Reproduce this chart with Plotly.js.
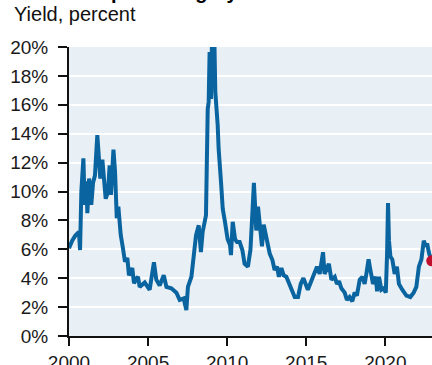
<!DOCTYPE html>
<html>
<head>
<meta charset="utf-8">
<script src="https://cdn.plot.ly/plotly-3.0.1.min.js"></script>
<style>html,body{margin:0;padding:0;background:#fff;}#chart{width:432px;height:365px;}</style>
</head>
<body>
<div id="chart"></div>
<script>
const titleText = "Global corporate high-yield bonds";
const subtitleText = "Yield, percent";
const years = [2000.00,2000.20,2000.40,2000.53,2000.63,2000.70,2000.78,2000.91,2000.99,2001.10,2001.16,2001.27,2001.33,2001.41,2001.52,2001.64,2001.79,2001.90,2001.98,2002.11,2002.21,2002.32,2002.47,2002.57,2002.65,2002.81,2002.91,2003.02,2003.12,2003.27,2003.41,2003.54,2003.69,2003.79,2004.00,2004.11,2004.28,2004.36,2004.47,2004.79,2005.10,2005.37,2005.52,2005.73,2005.99,2006.16,2006.47,2006.79,2007.00,2007.25,2007.42,2007.52,2007.74,2007.82,2008.03,2008.20,2008.34,2008.45,2008.56,2008.66,2008.77,2008.83,2008.89,2008.98,2009.04,2009.12,2009.19,2009.25,2009.40,2009.46,2009.61,2009.72,2009.86,2010.03,2010.18,2010.24,2010.35,2010.50,2010.62,2010.79,2010.96,2011.10,2011.31,2011.47,2011.57,2011.69,2011.78,2011.84,2011.95,2012.10,2012.20,2012.31,2012.43,2012.52,2012.69,2012.86,2013.00,2013.15,2013.27,2013.43,2013.57,2013.74,2013.95,2014.27,2014.48,2014.65,2014.82,2015.00,2015.10,2015.32,2015.47,2015.68,2015.85,2015.95,2016.06,2016.16,2016.27,2016.43,2016.59,2016.80,2016.94,2017.07,2017.22,2017.43,2017.57,2017.74,2017.91,2018.06,2018.20,2018.38,2018.55,2018.69,2018.80,2018.94,2019.05,2019.22,2019.39,2019.48,2019.60,2019.75,2019.90,2020.03,2020.11,2020.17,2020.23,2020.32,2020.44,2020.59,2020.73,2020.86,2021.07,2021.33,2021.58,2021.79,2021.96,2022.12,2022.28,2022.43,2022.56,2022.64,2022.77,2022.93];
const yieldPct = [6.07,6.6,6.95,7.1,7.2,5.95,10.0,12.3,9.07,10.7,8.5,10.9,10.0,9.07,10.6,11.1,13.9,12.1,10.9,12.2,10.9,9.5,10.0,11.8,9.76,12.9,11.4,8.15,8.95,7.0,6.07,5.14,5.4,4.2,4.7,3.65,4.0,4.1,3.4,3.7,3.2,5.1,3.9,3.5,4.2,3.4,3.3,3.0,2.5,2.6,1.8,3.4,4.1,4.9,6.97,7.66,5.8,7.2,7.9,8.35,15.7,16.2,19.65,16.4,20.5,20.8,20.5,16.9,14.6,12.96,10.66,8.8,7.9,6.7,6.3,5.6,7.9,6.7,6.5,6.5,5.95,5.0,4.8,5.95,8.0,10.6,8.7,7.3,8.95,6.87,6.2,7.7,7.1,6.4,5.7,5.26,4.57,4.8,4.1,4.7,4.2,4.1,3.5,2.7,2.7,3.6,4.0,3.5,3.2,3.8,4.3,4.8,4.3,5.0,5.8,4.3,4.6,5.0,3.9,4.1,3.6,3.8,3.3,3.0,2.5,2.7,2.4,3.0,2.8,3.9,4.1,3.6,4.3,5.3,4.6,3.6,4.1,3.1,4.1,3.2,3.3,3.0,5.7,9.2,6.6,5.5,5.3,4.3,4.8,3.6,3.2,2.8,2.7,3.0,3.4,4.8,5.3,6.6,6.2,6.4,5.7,5.2];
const yTickVals = [0,2,4,6,8,10,12,14,16,18,20];
const yTickText = ["0%","2%","4%","6%","8%","10%","12%","14%","16%","18%","20%"];
const xTickVals = [2000,2005,2010,2015,2020];

const lineTrace = {
  x: years, y: yieldPct, type: 'scatter', mode: 'lines',
  line: {color: '#0a64a0', width: 4}, hoverinfo: 'skip'
};
const dotTrace = {
  x: [years[years.length-1]], y: [yieldPct[yieldPct.length-1]],
  type: 'scatter', mode: 'markers',
  marker: {color: '#c0102e', size: 11}, cliponaxis: false, hoverinfo: 'skip'
};
const font = {family: 'Liberation Sans, Arial, sans-serif', color: '#1a1a1a'};
const layout = {
  width: 432, height: 365,
  margin: {l: 69, r: 0, t: 47, b: 29, pad: 0},
  paper_bgcolor: '#ffffff', plot_bgcolor: '#e9f0f5',
  showlegend: false,
  font: Object.assign({size: 19}, font),
  xaxis: {
    range: [2000, 2022.95], tickvals: xTickVals, ticktext: xTickVals.map(String),
    showgrid: false, zeroline: false, showline: true, linecolor: '#111', linewidth: 2,
    ticks: 'outside', ticklen: 8, tickwidth: 2, tickcolor: '#111',
    tickfont: Object.assign({size: 19}, font), fixedrange: true
  },
  yaxis: {
    range: [0, 20], tickvals: yTickVals, ticktext: yTickText,
    showgrid: true, gridcolor: '#ffffff', gridwidth: 2, zeroline: false,
    showline: true, linecolor: '#111', linewidth: 2,
    ticks: 'outside', ticklen: 9, tickwidth: 2, tickcolor: '#111',
    ticklabelstandoff: 6,
    tickfont: Object.assign({size: 19}, font), fixedrange: true
  },
  annotations: [
    {text: '<b>' + titleText + '</b>', xref: 'paper', yref: 'paper', x: -0.163, y: 1.19,
     xanchor: 'left', yanchor: 'middle', showarrow: false,
     font: Object.assign({size: 20}, font, {color: '#000'})},
    {text: subtitleText, xref: 'paper', yref: 'paper', x: -0.157, y: 1.114,
     xanchor: 'left', yanchor: 'middle', showarrow: false,
     font: Object.assign({size: 20}, font, {color: '#111'})}
  ]
};
Plotly.newPlot('chart', [lineTrace, dotTrace], layout, {displayModeBar: false, staticPlot: true});
</script>
</body>
</html>
